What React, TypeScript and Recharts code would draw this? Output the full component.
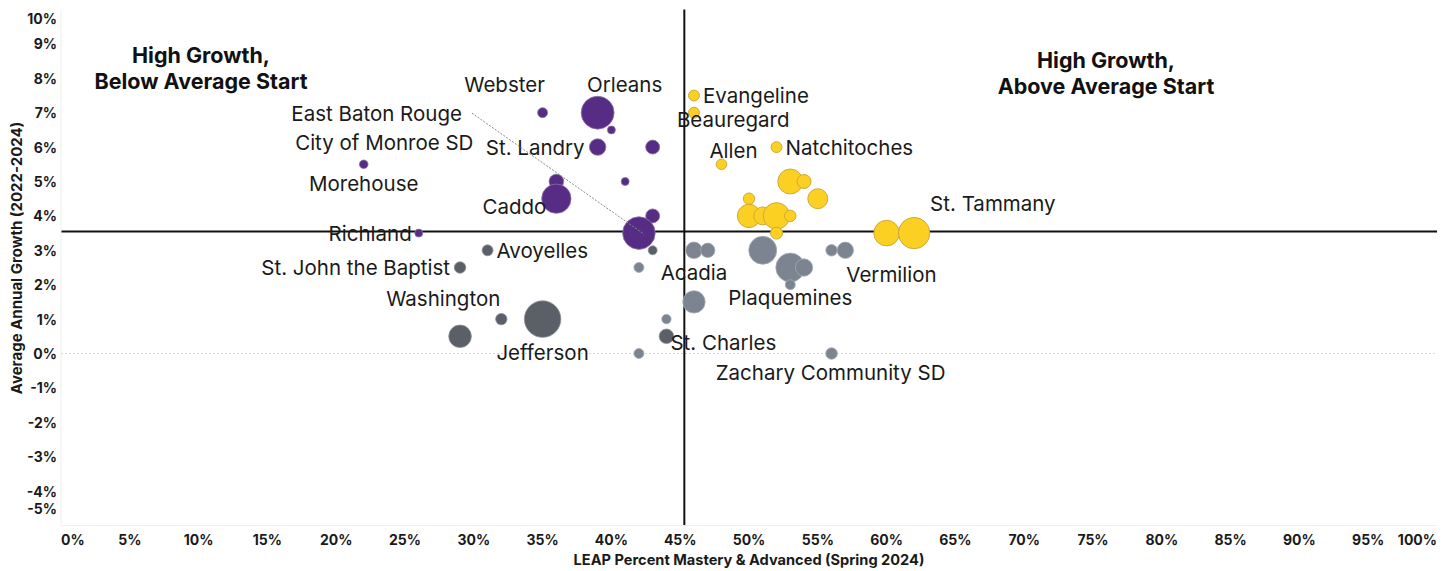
import {
  ScatterChart,
  Scatter,
  XAxis,
  YAxis,
  ZAxis,
  ReferenceLine,
} from 'recharts'

// x: LEAP % mastery & advanced, y: avg annual growth %, students: bubble size
const highGrowthBelow = [
  { name: 'Webster', mastery: 35, growth: 7.0, students: 3750 },
  { name: 'Orleans', mastery: 39, growth: 7.0, students: 40800 },
  { name: 'City of Monroe SD', mastery: 40, growth: 6.5, students: 2400 },
  { name: 'St. Landry', mastery: 39, growth: 6.0, students: 10300 },
  { name: '', mastery: 43, growth: 6.0, students: 7350 },
  { name: 'Morehouse', mastery: 22, growth: 5.5, students: 2800 },
  { name: '', mastery: 41, growth: 5.0, students: 2400 },
  { name: '', mastery: 36, growth: 5.0, students: 8000 },
  { name: 'Caddo', mastery: 36, growth: 4.5, students: 32400 },
  { name: '', mastery: 43, growth: 4.0, students: 7350 },
  { name: 'East Baton Rouge', mastery: 42, growth: 3.5, students: 39900 },
  { name: 'Richland', mastery: 26, growth: 3.5, students: 2400 },
]

const highGrowthAbove = [
  { name: 'Evangeline', mastery: 46, growth: 7.5, students: 4500 },
  { name: 'Beauregard', mastery: 46, growth: 7.0, students: 4500 },
  { name: 'Natchitoches', mastery: 52, growth: 6.0, students: 4500 },
  { name: 'Allen', mastery: 48, growth: 5.5, students: 4200 },
  { name: '', mastery: 53, growth: 5.0, students: 23400 },
  { name: '', mastery: 54, growth: 5.0, students: 7350 },
  { name: '', mastery: 50, growth: 4.5, students: 4900 },
  { name: '', mastery: 55, growth: 4.5, students: 15000 },
  { name: '', mastery: 50, growth: 4.0, students: 20500 },
  { name: '', mastery: 51, growth: 4.0, students: 12150 },
  { name: '', mastery: 52, growth: 4.0, students: 26500 },
  { name: '', mastery: 53, growth: 4.0, students: 5000 },
  { name: '', mastery: 52, growth: 3.5, students: 5400 },
  { name: '', mastery: 60, growth: 3.5, students: 24600 },
  { name: 'St. Tammany', mastery: 62, growth: 3.5, students: 37000 },
]

const lowGrowthBelow = [
  { name: 'Avoyelles', mastery: 31, growth: 3.0, students: 4500 },
  { name: '', mastery: 43, growth: 3.0, students: 3000 },
  { name: 'St. John the Baptist', mastery: 29, growth: 2.5, students: 5000 },
  { name: 'Washington', mastery: 32, growth: 1.0, students: 4900 },
  { name: 'Jefferson', mastery: 35, growth: 1.0, students: 50200 },
  { name: '', mastery: 29, growth: 0.5, students: 19200 },
  { name: 'St. Charles', mastery: 44, growth: 0.5, students: 8000 },
]

const lowGrowthOther = [
  { name: '', mastery: 42, growth: 2.5, students: 3750 },
  { name: '', mastery: 44, growth: 1.0, students: 3300 },
  { name: '', mastery: 42, growth: 0.0, students: 3750 },
  { name: 'Acadia', mastery: 46, growth: 3.0, students: 10300 },
  { name: '', mastery: 47, growth: 3.0, students: 7800 },
  { name: '', mastery: 51, growth: 3.0, students: 29400 },
  { name: '', mastery: 53, growth: 2.5, students: 31500 },
  { name: '', mastery: 54, growth: 2.5, students: 11300 },
  { name: 'Plaquemines', mastery: 53, growth: 2.0, students: 3750 },
  { name: '', mastery: 56, growth: 3.0, students: 5000 },
  { name: 'Vermilion', mastery: 57, growth: 3.0, students: 10100 },
  { name: '', mastery: 46, growth: 1.5, students: 18800 },
  { name: 'Zachary Community SD', mastery: 56, growth: 0.0, students: 5000 },
]

const avgMastery = 45.3
const avgGrowth = 3.55

const xTicks = [0, 5, 10, 15, 20, 25, 30, 35, 40, 45, 50, 55, 60, 65, 70, 75, 80, 85, 90, 95, 100]
const yTicks = [10, 9, 8, 7, 6, 5, 4, 3, 2, 1, 0, -1, -2, -3, -4, -5]

// label placement relative to the bubble centre: [dx, dy, anchor]
const labelPlacement: Record<string, [number, number, string]> = {
  'Webster': [-38, -28, 'middle'],
  'Orleans': [27, -28, 'middle'],
  'East Baton Rouge': [-177, -120, 'end'],
  'City of Monroe SD': [-138, 13, 'end'],
  'St. Landry': [-13, 0, 'end'],
  'Morehouse': [0, 19, 'middle'],
  'Caddo': [-10, 8, 'end'],
  'Richland': [-7, 0, 'end'],
  'Avoyelles': [9, 0, 'start'],
  'St. John the Baptist': [-10, 0, 'end'],
  'Washington': [-1, -21, 'end'],
  'Jefferson': [0, 33, 'middle'],
  'Acadia': [0, 22, 'middle'],
  'Plaquemines': [0, 13, 'middle'],
  'Vermilion': [1, 24, 'start'],
  'St. Charles': [4, 6, 'start'],
  'Zachary Community SD': [-1, 19, 'middle'],
  'Evangeline': [9, 0, 'start'],
  'Beauregard': [-17, 7, 'start'],
  'Allen': [12, -14, 'middle'],
  'Natchitoches': [9, 0, 'start'],
  'St. Tammany': [16, -30, 'start'],
}

const labelled = [...highGrowthBelow, ...highGrowthAbove, ...lowGrowthBelow, ...lowGrowthOther].filter((d) => d.name)

const FONT = 'Inter, "Noto Sans", sans-serif'

function XTick({ x, y, payload }: any) {
  const v = payload.value
  const anchor = v === 0 ? 'start' : v === 100 ? 'end' : 'middle'
  return (
    <text x={x} y={y + 6} textAnchor={anchor} dominantBaseline="central" fontSize={14} fontWeight={700} fill="#1a1a1a" fontFamily={FONT}>
      {`${v}%`}
    </text>
  )
}

function YTick({ x, y, payload }: any) {
  const v = payload.value
  const shift = v === 10 ? 8.5 : v === -5 ? -17.5 : 0
  return (
    <text x={x + 4} y={y + shift} textAnchor="end" dominantBaseline="central" fontSize={14} fontWeight={700} fill="#1a1a1a" fontFamily={FONT}>
      {`${v}%`}
    </text>
  )
}

function NameLabel({ cx, cy, payload }: any) {
  const p = labelPlacement[payload.name]
  if (!p) return <g />
  const [dx, dy, anchor] = p
  return (
    <g>
      {payload.name === 'East Baton Rouge' && (
        <line x1={cx + dx + 10} y1={cy + dy} x2={cx + 5} y2={cy + 1} stroke="#888" strokeWidth={1} strokeDasharray="2 1.5" />
      )}
      <text x={cx + dx} y={cy + dy} textAnchor={anchor} dominantBaseline="central" fontSize={20.5} fill="#1a1a1a" fontFamily={FONT}>
        {payload.name}
      </text>
    </g>
  )
}

const quadTitle = { textAnchor: 'middle', dominantBaseline: 'central', fontSize: 21.5, fontWeight: 700, fill: '#111', fontFamily: FONT } as any

export default function App() {
  return (
    <div style={{ position: 'absolute', left: 0, top: 0, background: '#fff' }}>
      <ScatterChart width={1452} height={571} margin={{ top: 9.5, right: 15, bottom: 0, left: 0 }}>
        <XAxis
          type="number"
          dataKey="mastery"
          domain={[0, 100]}
          ticks={xTicks}
          interval={0}
          tick={<XTick />}
          tickLine={false}
          axisLine={{ stroke: '#eeeeee' }}
          height={45.5}
        />
        <YAxis
          type="number"
          dataKey="growth"
          domain={[-5, 10]}
          ticks={yTicks}
          interval={0}
          tick={<YTick />}
          tickLine={false}
          axisLine={{ stroke: '#eeeeee' }}
          width={61}
        />
        <ZAxis type="number" dataKey="students" domain={[0, 50000]} range={[0, 1047]} />
        <ReferenceLine y={0} stroke="#d8d8d8" strokeDasharray="2 2" />
        <Scatter data={highGrowthBelow} fill="#572c84" stroke="#8c74a8" strokeWidth={0.8} isAnimationActive={false} />
        <Scatter data={highGrowthAbove} fill="#fcd022" stroke="#cfa93a" strokeWidth={1} isAnimationActive={false} />
        <Scatter data={lowGrowthBelow} fill="#5b6068" stroke="#8b9098" strokeWidth={0.8} isAnimationActive={false} />
        <Scatter data={lowGrowthOther} fill="#7b8490" stroke="#a3a9b2" strokeWidth={0.8} isAnimationActive={false} />
        <Scatter data={labelled} shape={<NameLabel />} isAnimationActive={false} />
        <ReferenceLine x={avgMastery} stroke="#111" strokeWidth={2} />
        <ReferenceLine y={avgGrowth} stroke="#111" strokeWidth={2} />
        <text x={201} y={55} {...quadTitle}>High Growth,</text>
        <text x={201} y={81} {...quadTitle}>Below Average Start</text>
        <text x={1106} y={60} {...quadTitle}>High Growth,</text>
        <text x={1106} y={86} {...quadTitle}>Above Average Start</text>
        <text x={749} y={560} textAnchor="middle" dominantBaseline="central" fontSize={14.6} fontWeight={700} fill="#1a1a1a" fontFamily={FONT}>
          LEAP Percent Mastery &amp; Advanced (Spring 2024)
        </text>
        <text
          x={16}
          y={258}
          transform="rotate(-90 16 258)"
          textAnchor="middle"
          dominantBaseline="central"
          fontSize={15}
          fontWeight={700}
          fill="#1a1a1a"
          fontFamily={FONT}
        >
          Average Annual Growth (2022-2024)
        </text>
      </ScatterChart>
    </div>
  )
}
